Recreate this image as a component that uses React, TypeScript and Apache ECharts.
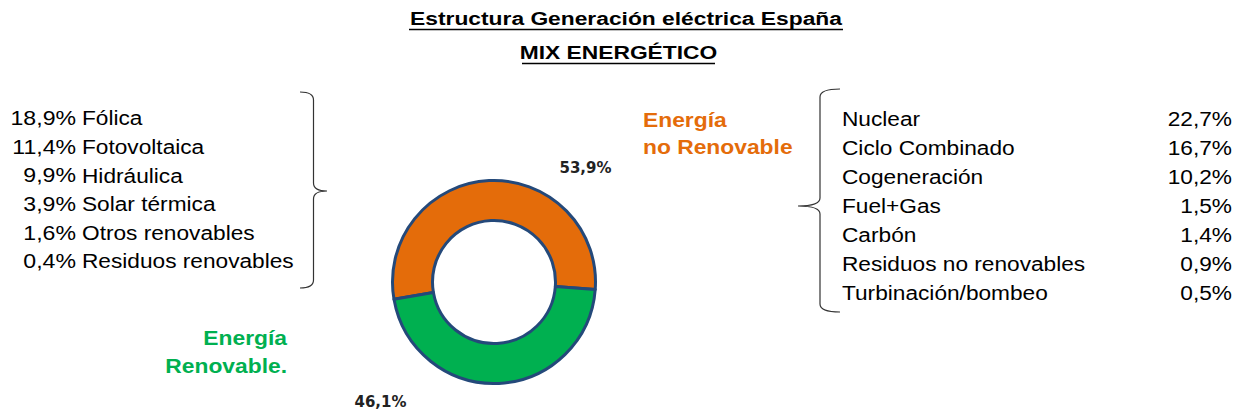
import React, { useEffect, useRef } from 'react';
import * as echarts from 'echarts';

const titleLines = ['Estructura Generación eléctrica España', 'MIX ENERGÉTICO'];
const mixNames = ['Energía\nno Renovable', 'Energía\nRenovable.'];
const mixValues = [53.9, 46.1];
const mixColors = ['#E46C0A', '#00B050'];
const renewableNames = ['Fólica', 'Fotovoltaica', 'Hidráulica', 'Solar térmica', 'Otros renovables', 'Residuos renovables'];
const renewableValues = [18.9, 11.4, 9.9, 3.9, 1.6, 0.4];
const nonRenewableNames = ['Nuclear', 'Ciclo Combinado', 'Cogeneración', 'Fuel+Gas', 'Carbón', 'Residuos no renovables', 'Turbinación/bombeo'];
const nonRenewableValues = [22.7, 16.7, 10.2, 1.5, 1.4, 0.9, 0.5];

const fmt = (v: number) => v.toFixed(1).replace('.', ',') + '%';

const LEFT_BRACE = 'M300,92 Q313.5,92 313.5,100 L313.5,183 Q313.5,191 327,191 Q313.5,191 313.5,199 L313.5,280 Q313.5,288 300,288';
const RIGHT_BRACE = 'M840,89 Q820,89 820,97 L820,198 Q820,206 798,206 Q820,206 820,214 L820,304 Q820,312 840,312';

let registered = false;
function registerShapes() {
  if (registered) return;
  registered = true;
  echarts.graphic.registerShape('leftBrace', echarts.graphic.extendPath(LEFT_BRACE, {}) as any);
  echarts.graphic.registerShape('rightBrace', echarts.graphic.extendPath(RIGHT_BRACE, {}) as any);
}

const FONT = '"Liberation Sans", Arial, sans-serif';

export default function App() {
  const ref = useRef<HTMLDivElement>(null);
  useEffect(() => {
    if (!ref.current) return;
    registerShapes();
    const chart = echarts.init(ref.current, undefined, { renderer: 'svg' });

    const graphics: any[] = [];
    // Title
    const titleCenters = [626, 618.5];
    const titleBaselines = [25, 58.5];
    const underline = [
      [409, 843, 29.5],
      [522, 715, 63.5],
    ];
    titleLines.forEach((t, i) => {
      graphics.push({
        type: 'text',
        x: titleCenters[i],
        y: titleBaselines[i] - 6.6,
        scaleX: 1.2,
        style: {
          text: t,
          font: `bold 19px ${FONT}`,
          fill: '#000',
          align: 'center',
          verticalAlign: 'middle',
        },
      });
      graphics.push({
        type: 'line',
        shape: { x1: underline[i][0], y1: underline[i][2], x2: underline[i][1], y2: underline[i][2] },
        style: { stroke: '#000', lineWidth: 1.6 },
      });
    });

    // Left list (renewables)
    renewableNames.forEach((n, i) => {
      const yc = 125.5 + 28.6 * i - 7.35;
      graphics.push({
        type: 'text', x: 76, y: yc, scaleX: 1.1,
        style: { text: fmt(renewableValues[i]), font: `21px ${FONT}`, fill: '#000', align: 'right', verticalAlign: 'middle' },
      });
      graphics.push({
        type: 'text', x: 82, y: yc, scaleX: 1.08,
        style: { text: n, font: `21px ${FONT}`, fill: '#000', align: 'left', verticalAlign: 'middle' },
      });
    });

    // Right list (non renewables)
    nonRenewableNames.forEach((n, i) => {
      const yc = 125.7 + 29.05 * i - 7.35;
      graphics.push({
        type: 'text', x: 842, y: yc, scaleX: 1.08,
        style: { text: n, font: `21px ${FONT}`, fill: '#000', align: 'left', verticalAlign: 'middle' },
      });
      graphics.push({
        type: 'text', x: 1232, y: yc, scaleX: 1.08,
        style: { text: fmt(nonRenewableValues[i]), font: `21px ${FONT}`, fill: '#000', align: 'right', verticalAlign: 'middle' },
      });
    });

    // Braces
    graphics.push({ type: 'leftBrace', x: 0, y: 0, style: { fill: 'none', stroke: '#333', lineWidth: 1.2 } });
    graphics.push({ type: 'rightBrace', x: 0, y: 0, style: { fill: 'none', stroke: '#333', lineWidth: 1.2 } });

    // Group labels
    graphics.push({
      type: 'text', x: 643, y: 106.4, scaleX: 1.17,
      style: { text: mixNames[0], font: `bold 19.5px ${FONT}`, lineHeight: 27, fill: mixColors[0], align: 'left', verticalAlign: 'top' },
    });
    graphics.push({
      type: 'text', x: 287, y: 324.2, scaleX: 1.17,
      style: { text: mixNames[1], font: `bold 19.5px ${FONT}`, lineHeight: 28, fill: mixColors[1], align: 'right', verticalAlign: 'top' },
    });

    // Percent labels
    graphics.push({
      type: 'text', x: 585.5, y: 168,
      style: { text: fmt(mixValues[0]), font: `bold 15px "DejaVu Sans", sans-serif`, fill: '#222', align: 'center', verticalAlign: 'middle' },
    });
    graphics.push({
      type: 'text', x: 380.5, y: 402,
      style: { text: fmt(mixValues[1]), font: `bold 15px "DejaVu Sans", sans-serif`, fill: '#222', align: 'center', verticalAlign: 'middle' },
    });

    chart.setOption({
      animation: false,
      backgroundColor: '#fff',
      series: [
        {
          type: 'pie',
          silent: true,
          center: [494, 282],
          radius: [61.5, 101.5],
          clockwise: false,
          startAngle: -4.2,
          label: { show: false },
          labelLine: { show: false },
          itemStyle: { borderColor: '#24497A', borderWidth: 3 },
          data: mixValues.map((v, i) => ({
            name: mixNames[i],
            value: v,
            itemStyle: { color: mixColors[i] },
          })),
        },
      ],
      graphic: graphics,
    });
    return () => chart.dispose();
  }, []);
  return (
    <div
      ref={ref}
      style={{ position: 'absolute', left: 0, top: 0, width: 1236, height: 412 }}
    />
  );
}
